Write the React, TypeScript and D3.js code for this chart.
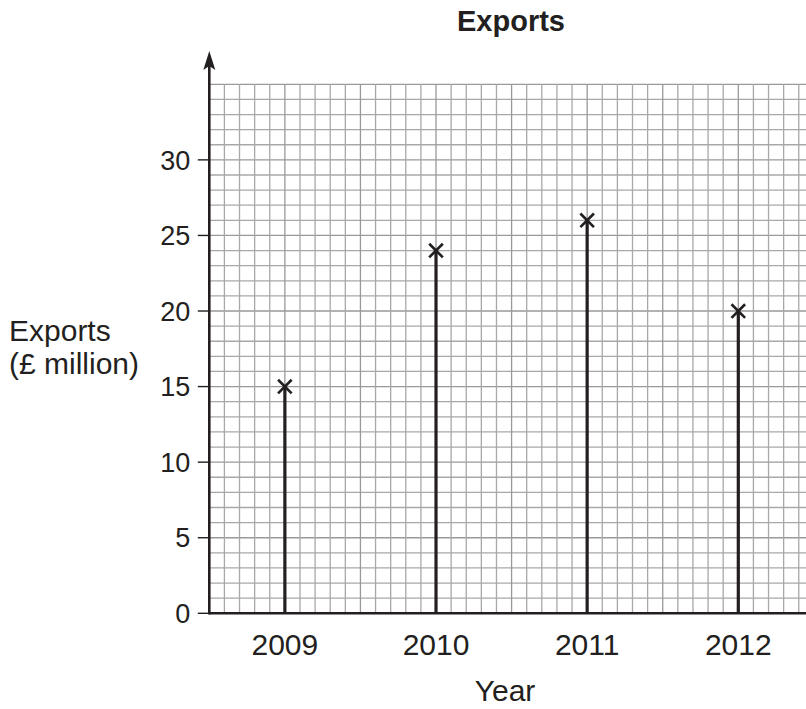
import React from "react";
import * as d3 from "d3";

const years = ["2009", "2010", "2011", "2012"];
const exportsValues = [15, 24, 26, 20];
const yTicks = [0, 5, 10, 15, 20, 25, 30];
const yMax = 35;
const gridCols = 39;

const W = 806;
const H = 709;
const left = 209.3;
const bottom = 613.3;
const top = 84.3;
const cell = (bottom - top) / yMax;

export default function App() {
  const y = d3.scaleLinear().domain([0, yMax]).range([bottom, top]);
  const xGrid = d3.scaleLinear().domain([0, gridCols]).range([left, left + gridCols * cell]);
  const x = d3.scaleBand<string>().domain(years).range([left, left + 40 * cell]).padding(0);
  const font = "Liberation Sans, Arial, Helvetica, sans-serif";
  const hLines = d3.range(1, yMax + 1);
  const vLines = d3.range(1, gridCols + 1);
  const m = 6.8;
  return (
    <svg width={W} height={H} style={{ position: "absolute", left: 0, top: 0, background: "#fff" }} fontFamily={font}>
      {hLines.map((v) => (
        <line key={"h" + v} x1={left} x2={W} y1={y(v)} y2={y(v)} stroke={v % 5 === 0 ? "#999" : "#a8a8a8"} strokeWidth={1.3} />
      ))}
      {vLines.map((c) => (
        <line key={"v" + c} x1={xGrid(c)} x2={xGrid(c)} y1={bottom} y2={top} stroke={c % 5 === 0 ? "#999" : "#a8a8a8"} strokeWidth={1.3} />
      ))}
      <line x1={left} x2={W} y1={bottom} y2={bottom} stroke="#231f20" strokeWidth={2.6} />
      <line x1={left} x2={left} y1={bottom + 1.3} y2={66} stroke="#231f20" strokeWidth={2.6} />
      <path d={`M${left},51 L${left - 6},70 L${left},66 L${left + 6},70 Z`} fill="#231f20" />
      {yTicks.map((t) => (
        <g key={"t" + t}>
          <line x1={left - 11.5} x2={left} y1={y(t)} y2={y(t)} stroke="#231f20" strokeWidth={1.4} />
          <text x={left - 19} y={y(t)} dy="0.36em" textAnchor="end" fontSize={27} fill="#231f20">{t}</text>
        </g>
      ))}
      {years.map((yr, i) => {
        const cx = (x(yr) as number) + x.bandwidth() / 2;
        const cy = y(exportsValues[i]);
        return (
          <g key={yr}>
            <line x1={cx} x2={cx} y1={bottom} y2={cy} stroke="#231f20" strokeWidth={3.2} />
            <line x1={cx - m} x2={cx + m} y1={cy - m} y2={cy + m} stroke="#231f20" strokeWidth={2.6} />
            <line x1={cx - m} x2={cx + m} y1={cy + m} y2={cy - m} stroke="#231f20" strokeWidth={2.6} />
            <text x={cx} y={655} textAnchor="middle" fontSize={30} fill="#231f20">{yr}</text>
          </g>
        );
      })}
      <text x={511} y={31} textAnchor="middle" fontSize={29} fontWeight="bold" fill="#231f20">Exports</text>
      <text x={505} y={701} textAnchor="middle" fontSize={30} fill="#231f20">Year</text>
      <text x={9} y={341} fontSize={30} fill="#231f20">Exports</text>
      <text x={9} y={374} fontSize={30} fill="#231f20">(£ million)</text>
    </svg>
  );
}
